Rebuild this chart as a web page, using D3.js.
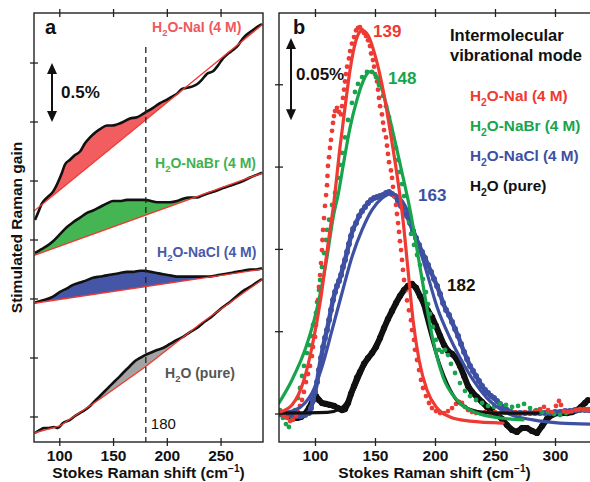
<!DOCTYPE html>
<html>
<head>
<meta charset="utf-8">
<script src="https://cdn.jsdelivr.net/npm/d3@7"></script>
<style>
  body { margin: 0; background: #fff; }
  text { font-family: "Liberation Sans", Arial, sans-serif; }
</style>
</head>
<body>
<script>
// ---- panel a : stimulated Raman gain traces (% , cm-1) ----
const naiTrace = [[76.9,1.67],[79.7,1.73],[83.4,1.81],[88.1,1.86],[93.7,1.91],[98.3,1.99],[102.0,2.07],[104.8,2.14],[109.5,2.18],[114.1,2.22],[118.8,2.25],[123.4,2.32],[128.1,2.37],[132.7,2.41],[137.4,2.44],[143.9,2.47],[148.6,2.47],[153.2,2.48],[158.8,2.5],[165.3,2.53],[171.8,2.54],[179.3,2.58],[186.7,2.62],[193.2,2.66],[199.7,2.69],[205.3,2.72],[209.0,2.74],[213.7,2.78],[218.3,2.79],[223.0,2.8],[227.6,2.82],[232.3,2.86],[237.0,2.91],[242.5,2.93],[247.2,2.98],[251.8,3.04],[256.5,3.08],[261.1,3.11],[265.8,3.15],[270.4,3.21],[275.1,3.25],[279.7,3.28],[284.4,3.31],[288.1,3.33]];
const naiBase = [[76,1.746],[289,3.33]];

const nabrTrace = [[76.9,1.39],[82.5,1.42],[88.1,1.45],[93.7,1.49],[100.2,1.55],[106.7,1.61],[112.3,1.65],[118.8,1.69],[125.3,1.73],[130.9,1.75],[137.4,1.78],[143.9,1.81],[149.5,1.83],[156.0,1.83],[162.5,1.84],[168.1,1.84],[174.6,1.84],[179.3,1.84],[184.9,1.83],[190.4,1.82],[196.0,1.82],[202.5,1.82],[209.0,1.83],[214.6,1.85],[221.1,1.86],[227.6,1.86],[233.2,1.88],[239.7,1.9],[246.2,1.92],[251.8,1.94],[258.3,1.96],[264.8,1.98],[270.4,2.0],[276.9,2.03],[282.5,2.05],[288.1,2.07]];
const nabrBase = [[76,1.369],[289,2.07]];

const naclTrace = [[76.9,0.97],[84.4,0.99],[93.7,1.02],[100.2,1.06],[106.7,1.09],[112.3,1.12],[118.8,1.14],[125.3,1.16],[130.9,1.18],[137.4,1.19],[143.9,1.2],[149.5,1.21],[156.0,1.22],[162.5,1.23],[168.1,1.23],[174.6,1.24],[179.3,1.24],[184.9,1.23],[190.4,1.22],[196.0,1.21],[202.5,1.2],[209.0,1.19],[214.6,1.19],[221.1,1.19],[227.6,1.19],[233.2,1.19],[239.7,1.19],[246.2,1.2],[251.8,1.21],[258.3,1.22],[264.8,1.23],[270.4,1.24],[276.9,1.25],[282.5,1.25],[288.1,1.26]];
const naclBase = [[76,0.964],[289,1.254]];

const pureTrace = [[76.9,-0.136],[81.5,-0.11],[85.3,-0.093],[89.9,-0.093],[94.6,-0.085],[98.3,-0.093],[102.9,-0.051],[109.5,-0.025],[114.1,0.008],[118.8,0.034],[123.4,0.059],[128.1,0.093],[132.7,0.136],[137.4,0.178],[142.0,0.22],[146.7,0.263],[151.3,0.305],[156.0,0.347],[160.6,0.39],[165.3,0.432],[170.0,0.475],[174.6,0.5],[179.3,0.525],[183.9,0.542],[190.4,0.568],[196.0,0.585],[202.5,0.619],[209.0,0.653],[214.6,0.678],[221.1,0.72],[227.6,0.754],[233.2,0.797],[239.7,0.839],[246.2,0.89],[251.8,0.932],[258.3,0.975],[264.8,1.025],[270.4,1.068],[276.9,1.102],[282.5,1.136],[288.1,1.169]];
const pureBase = [[76,-0.136],[100,-0.076],[137.4,0.153],[179.3,0.424],[230.4,0.788],[289,1.169]];

const ticksXA = [100, 150, 200, 250];
const ticksYA = [0, 0.5, 1, 1.5, 2, 2.5, 3];

// ---- panel b : intermolecular mode spectra (gain in 0.01 %) ----
const naiDots = [[71.3,0.06],[73.8,-0.12],[76.3,-0.24],[78.8,-0.43],[81.3,-0.36],[83.8,-0.12],[85.4,0.12],[87.1,0.49],[88.8,0.85],[90.4,1.34],[92.1,1.94],[93.8,2.43],[95.4,2.92],[97.1,3.52],[97.9,4.07],[99.6,4.68],[100.4,5.41],[101.3,6.14],[102.1,6.93],[102.9,7.72],[103.8,8.44],[104.6,9.17],[105.4,9.96],[105.8,10.57],[106.3,11.18],[107.1,11.9],[107.9,12.64],[108.8,13.3],[109.6,13.9],[110.0,14.46],[110.4,15.07],[111.3,15.6],[112.1,16.16],[112.9,16.65],[113.8,17.2],[114.6,17.68],[115.4,18.1],[116.3,18.4],[117.9,18.6],[119.6,18.35],[121.3,18.2],[122.1,18.7],[122.9,19.2],[123.8,19.7],[124.6,20.2],[125.4,20.65],[126.3,21.1],[127.9,21.6],[128.8,22.05],[130.4,22.5],[132.1,22.9],[133.8,23.3],[135.4,23.45],[137.1,23.5],[138.8,23.3],[140.4,23.15],[142.1,22.96],[143.8,22.7],[145.4,22.35],[146.3,21.9],[147.9,21.5],[148.8,21.1],[149.6,20.65],[151.3,20.2],[152.1,19.7],[152.9,19.2],[153.8,18.7],[155.4,18.2],[156.3,17.7],[157.1,17.25],[158.8,16.8],[159.6,16.3],[160.4,15.8],[161.3,15.3],[162.9,14.8],[163.8,14.34],[164.6,13.8],[165.4,13.24],[167.1,12.7],[167.9,12.15],[168.8,11.6],[169.6,11.06],[170.4,10.5],[171.3,9.96],[172.1,9.36],[172.9,8.75],[173.8,8.14],[175.4,7.53],[176.3,6.9],[177.9,6.3],[179.6,5.7],[180.4,5.1],[182.1,4.5],[182.9,3.9],[184.6,3.28],[186.3,2.67],[187.9,2.07],[189.6,1.58],[192.1,1.09],[194.6,0.67],[197.1,0.36],[200.4,0.18],[203.8,0.06],[207.1,0.06],[210.4,0.18],[213.8,0.36],[217.1,0.61],[219.6,0.73],[222.1,0.67],[224.6,0.43],[227.1,0.24],[230.4,0.12],[233.8,0.06],[237.1,0.06],[241.3,0.12],[245.4,0.06],[249.6,0.12],[253.8,0.06],[257.9,0.12],[262.1,0.06],[266.3,0.12],[270.4,0.06],[274.6,0.12],[278.8,0.06],[282.9,0.18],[287.1,0.3],[290.4,0.43],[293.8,0.24],[297.1,0.12],[300.4,0.49],[302.9,0.79],[304.6,0.55],[307.1,0.18],[310.4,0.12],[313.8,0.18],[317.1,0.24],[320.4,0.3],[323.8,0.3],[327.1,0.24]];
const naiFit = [[70.4,0.12],[80.4,0.55],[90.4,2.07],[97.1,4.07],[104.6,7.11],[110.4,10.3],[115.4,12.9],[120.4,16.2],[124.6,18.6],[128.8,20.9],[133.8,22.7],[138.8,23.3],[143.8,23.0],[149.6,21.8],[156.3,19.7],[162.1,17.25],[168.0,14.5],[172.9,11.8],[177.1,8.75],[181.3,5.7],[186.3,3.28],[192.9,1.46],[201.3,0.36],[212.1,-0.18],[228.8,-0.43],[256.3,-0.55]];

const nabrDots = [[70.4,0.24],[72.9,-0.24],[75.4,-0.61],[77.9,-0.79],[80.4,-0.36],[82.9,0.24],[85.4,0.97],[87.1,1.58],[88.8,2.31],[90.4,2.92],[92.9,3.7],[94.6,4.19],[96.3,4.74],[97.9,5.41],[100.4,6.14],[101.3,6.8],[102.9,7.53],[103.8,8.14],[105.4,8.93],[107.1,9.78],[108.8,10.57],[109.6,11.18],[111.3,11.8],[113.8,12.7],[116.3,13.43],[118.8,14.34],[120.4,15.13],[122.1,15.86],[124.6,16.8],[127.1,17.86],[130.4,18.9],[132.9,19.56],[135.4,20.05],[138.8,20.47],[142.9,20.78],[147.1,20.78],[150.4,20.47],[152.9,19.99],[156.3,19.32],[158.8,18.7],[161.3,18.04],[162.9,17.44],[164.6,16.83],[167.1,16.16],[168.8,15.43],[170.4,14.7],[172.1,13.97],[173.8,13.24],[176.3,12.4],[177.9,11.66],[179.6,10.94],[182.1,10.27],[184.6,9.66],[187.1,9.05],[189.6,8.2],[192.1,7.41],[193.8,6.68],[195.4,6.08],[197.9,5.29],[200.4,4.5],[202.9,3.9],[205.4,3.77],[207.9,3.9],[210.4,3.58],[212.9,3.04],[216.3,2.49],[220.4,1.88],[224.6,1.4],[228.8,1.09],[233.8,0.85],[238.8,0.67],[243.8,0.49],[248.8,0.43],[253.8,0.61],[258.8,0.55],[263.8,0.43],[268.8,0.49],[273.8,0.61],[278.8,0.36],[283.8,0.24],[288.8,0.12],[293.8,0.12],[298.8,0],[303.8,-0.06],[308.8,0.06],[313.8,0.18],[318.8,0.24],[323.8,0.24],[327.1,0.3]];
const nabrFit = [[69.6,0.67],[80.4,2.07],[92.1,4.07],[100.4,6.14],[108.8,9.17],[115.4,12.2],[118.8,13.3],[123.8,15.4],[128.8,17.4],[134.6,19.1],[139.6,20.2],[145.4,20.8],[151.3,20.5],[156.3,19.5],[164.6,17.1],[172.9,14.4],[178.8,12.4],[184.6,10.0],[190.4,7.5],[197.9,4.5],[206.3,2.25],[217.9,0.85],[234.6,0.06],[253.8,-0.24],[272.9,-0.36]];

const naclDots = [[71.3,0],[74.6,0],[77.9,-0.06],[81.3,-0.12],[84.6,-0.12],[87.9,-0.12],[91.3,-0.06],[94.6,0.06],[96.3,0.36],[97.9,0.85],[99.6,1.34],[101.3,1.94],[102.9,2.67],[104.6,3.4],[106.3,4.07],[107.9,4.62],[109.6,5.1],[111.3,5.71],[112.9,6.32],[114.6,6.93],[116.3,7.41],[117.9,7.78],[119.6,8.08],[121.3,8.44],[122.9,8.93],[124.6,9.36],[126.3,9.84],[127.9,10.33],[129.6,10.81],[131.3,11.24],[133.8,11.6],[136.3,12.03],[138.8,12.33],[141.3,12.58],[143.8,12.82],[146.3,13.0],[148.8,13.12],[151.3,13.18],[153.8,13.24],[156.3,13.3],[158.8,13.43],[161.3,13.49],[163.8,13.37],[166.3,13.24],[168.8,12.94],[171.3,12.64],[173.8,12.33],[176.3,12.03],[178.8,11.6],[181.3,11.12],[183.8,10.69],[186.3,10.27],[188.8,9.84],[191.3,9.48],[193.8,9.05],[196.3,8.63],[198.8,8.2],[201.3,7.78],[203.8,7.29],[206.3,6.74],[208.8,6.32],[211.3,6.01],[213.8,5.59],[216.3,5.16],[218.8,4.74],[221.3,4.25],[223.8,3.77],[226.3,3.34],[228.8,2.92],[231.3,2.61],[233.8,2.31],[236.3,2.0],[238.8,1.7],[241.3,1.46],[243.8,1.28],[246.3,1.09],[248.8,0.97],[251.3,0.79],[253.8,0.61],[256.3,0.43],[259.6,0.24],[262.9,0.12],[266.3,0.06],[270.4,0.06],[274.6,0.06],[278.8,0.06],[282.9,0.06],[287.1,0.06],[291.3,0.06],[295.4,0.06],[299.6,0.12],[303.8,0.12],[307.9,0.18],[312.1,0.18],[316.3,0.24],[320.4,0.24],[324.6,0.24],[327.9,0.24]];
const naclFit = [[69.6,0.06],[82.9,0.24],[91.3,0.67],[97.1,1.28],[105.4,2.86],[113.8,5.1],[122.1,7.35],[130.4,9.54],[138.8,11.18],[147.1,12.4],[155.4,13.1],[162.9,13.37],[170.4,13.1],[176.3,12.4],[181.3,11.3],[187.1,9.96],[192.9,8.57],[201.3,6.5],[212.1,4.62],[222.9,3.1],[231.3,2.07],[242.9,0.97],[259.6,0.06],[281.3,-0.36],[303.8,-0.55],[328.8,-0.61]];

const pureDots = [[71.3,0.06],[74.6,0],[77.9,-0.12],[81.3,-0.24],[84.6,-0.24],[87.9,-0.18],[91.3,0],[94.6,0.36],[97.9,0.85],[100.4,1.09],[102.9,0.85],[105.4,0.67],[108.8,0.61],[112.1,0.55],[115.4,0.49],[118.8,0.36],[122.1,0.24],[124.6,0.3],[127.1,0.67],[129.6,1.22],[132.1,1.7],[134.6,2.19],[137.1,2.55],[140.4,3.04],[143.8,3.4],[147.1,3.7],[150.4,4.07],[153.8,4.62],[157.1,5.22],[160.4,5.77],[163.8,6.26],[167.1,6.74],[170.4,7.17],[173.8,7.53],[177.1,7.78],[180.4,7.9],[183.8,7.66],[187.1,7.17],[190.4,6.68],[193.8,6.26],[197.1,5.89],[200.4,5.35],[203.8,4.74],[207.1,4.19],[210.4,3.83],[213.8,3.65],[217.1,3.4],[220.4,2.92],[223.8,2.31],[227.1,1.7],[230.4,1.34],[234.6,1.03],[238.8,0.73],[242.9,0.43],[247.1,0.18],[251.3,-0.06],[255.4,-0.3],[259.6,-0.67],[263.8,-0.97],[267.9,-1.09],[272.1,-0.85],[276.3,-0.85],[280.4,-1.03],[284.6,-1.15],[288.8,-0.73],[292.9,-0.3],[297.1,-0.06],[301.3,0.06],[305.4,0.06],[309.6,0.06],[313.8,0.12],[317.9,0.24],[321.3,0.43],[324.6,0.67],[327.1,0.85]];
const pureFit = [[70.4,0.06],[110.0,0.1],[120.0,0.3],[127.0,0.8],[133.0,1.6],[140.0,2.8],[147.0,3.8],[153.0,4.6],[160.0,5.7],[167.0,6.7],[173.0,7.4],[179.0,7.8],[184.0,7.6],[188.0,7.0],[192.0,5.9],[198.0,4.3],[204.0,2.9],[210.0,1.8],[217.0,0.9],[225.0,0.4],[235.0,0.15],[250.0,0.06],[285.4,0.06]];

const ticksXB = [100, 150, 200, 250, 300];
const ticksYB = [0, 5, 10, 15, 20];
const peakLabels = ["139", "148", "163", "182"];
const seriesNames = ["-NaI (4 M)", "-NaBr (4 M)", "-NaCl (4 M)", " (pure)"];

const RED = "#ee3a33", GREEN = "#17a44d", BLUE = "#3e50a2", BLACK = "#111";

const svg = d3.select("body").append("svg").attr("width", 590).attr("height", 482);

const A = {l: 34, r: 263, t: 13, b: 442};
const B = {l: 279, r: 592, t: 13, b: 442};

const xA = d3.scaleLinear().domain([76, 289]).range([A.l, A.r]);
const yA = d3.scaleLinear().domain([-0.212, 3.424]).range([A.b, A.t]);
const xB = d3.scaleLinear().domain([69.6, 328.75]).range([279, 590]);
const yB = d3.scaleLinear().domain([-1.70, 24.36]).range([B.b, B.t]);

const defs = svg.append("defs");
defs.append("clipPath").attr("id", "clipA").append("rect")
    .attr("x", A.l).attr("y", A.t).attr("width", A.r - A.l).attr("height", A.b - A.t);
defs.append("clipPath").attr("id", "clipB").append("rect")
    .attr("x", B.l).attr("y", B.t).attr("width", B.r - B.l).attr("height", B.b - B.t);

// ---------- panel a ----------
const gA = svg.append("g").attr("clip-path", "url(#clipA)");

function drawTrace(trace, base, fill) {
    const bl = d3.scaleLinear().domain(base.map(d => d[0])).range(base.map(d => d[1]));
    const area = d3.area()
        .x(d => xA(d[0]))
        .y0(d => yA(bl(d[0])))
        .y1(d => yA(Math.max(d[1], bl(d[0]))))
        .curve(d3.curveMonotoneX);
    gA.append("path").attr("d", area(trace)).attr("fill", fill).attr("stroke", "none");
    gA.append("path")
        .attr("d", d3.line().x(d => xA(d[0])).y(d => yA(d[1])).curve(d3.curveMonotoneX)(trace))
        .attr("fill", "none").attr("stroke", BLACK).attr("stroke-width", 2.6)
        .attr("stroke-linejoin", "round");
    gA.append("path")
        .attr("d", d3.line().x(d => xA(d[0])).y(d => yA(d[1]))(base))
        .attr("fill", "none").attr("stroke", RED).attr("stroke-width", 1.3);
}
drawTrace(naiTrace, naiBase, "#f25d5f");
drawTrace(nabrTrace, nabrBase, "#45b553");
drawTrace(naclTrace, naclBase, "#4656a7");
drawTrace(pureTrace, pureBase, "#a3a3a3");

// dashed marker at 180 cm-1
svg.append("line")
    .attr("x1", xA(180)).attr("x2", xA(180)).attr("y1", 47).attr("y2", A.b)
    .attr("stroke", "#222").attr("stroke-width", 1.3).attr("stroke-dasharray", "6,4");
svg.append("text").attr("x", xA(180) + 5).attr("y", 429)
    .attr("font-size", 15).attr("fill", "#111").text("180");

// ---------- panel b ----------
const gB = svg.append("g").attr("clip-path", "url(#clipB)");
const bandLine = d3.line().x(d => xB(d[0])).y(d => yB(d[1]));
const fitLine = d3.line().x(d => xB(d[0])).y(d => yB(d[1])).curve(d3.curveMonotoneX);

function drawDots(pts, color, r, band) {
    if (band) {
        gB.append("path").attr("d", bandLine(pts)).attr("fill", "none")
            .attr("stroke", color).attr("stroke-width", band)
            .attr("stroke-linejoin", "round");
    }
    gB.append("g").selectAll("circle").data(pts).join("circle")
        .attr("cx", d => xB(d[0])).attr("cy", d => yB(d[1])).attr("r", r)
        .attr("fill", color);
}
drawDots(pureDots, BLACK, 3.1, 6);
drawDots(naclDots, BLUE, 3.0, 4.5);
drawDots(nabrDots, GREEN, 2.4, 0);
drawDots(naiDots, RED, 2.4, 0);

function drawFit(pts, color) {
    gB.append("path").attr("d", fitLine(pts))
        .attr("fill", "none").attr("stroke", color).attr("stroke-width", 3.2)
        .attr("stroke-linecap", "round");
}
drawFit(naclFit, BLUE);
drawFit(pureFit, BLACK);
drawFit(nabrFit, GREEN);
drawFit(naiFit, RED);

// ---------- frames and ticks ----------
function frame(P, xs, xTicks, ys, yTicks) {
    svg.append("rect").attr("x", P.l).attr("y", P.t)
        .attr("width", P.r - P.l).attr("height", P.b - P.t)
        .attr("fill", "none").attr("stroke", "#222").attr("stroke-width", 1.4);
    const g = svg.append("g").attr("stroke", "#222").attr("stroke-width", 1.3);
    xTicks.forEach(v => {
        [P.t, P.b].forEach(y0 => g.append("line")
            .attr("x1", xs(v)).attr("x2", xs(v)).attr("y1", y0 - 4).attr("y2", y0 + 4));
        svg.append("text").attr("x", xs(v)).attr("y", 461)
            .attr("text-anchor", "middle").attr("font-size", 15.5).attr("font-weight", "bold")
            .attr("fill", "#111").text(v);
    });
    yTicks.forEach(v => g.append("line")
        .attr("x1", P.l - 4).attr("x2", P.l + 4).attr("y1", ys(v)).attr("y2", ys(v)));
    const title = svg.append("text").attr("x", (P.l + Math.min(P.r, 590)) / 2).attr("y", 478)
        .attr("text-anchor", "middle").attr("font-size", 15.5).attr("font-weight", "bold")
        .attr("fill", "#111");
    title.append("tspan").text("Stokes Raman shift (cm");
    title.append("tspan").attr("font-size", 10).attr("dy", -6).text("\u22121");
    title.append("tspan").attr("dy", 6).text(")");
}
frame(A, xA, ticksXA, yA, ticksYA);
frame(B, xB, ticksXB, yB, ticksYB);

svg.append("text")
    .attr("transform", `translate(22,${(A.t + A.b) / 2}) rotate(-90)`)
    .attr("text-anchor", "middle").attr("font-size", 15.5).attr("font-weight", "bold")
    .attr("fill", "#111").text("Stimulated Raman gain");

// ---------- annotations ----------
function arrow(x, y1, y2) {
    const g = svg.append("g").attr("fill", "#111");
    g.append("line").attr("x1", x).attr("x2", x).attr("y1", y1 + 8).attr("y2", y2 - 8)
        .attr("stroke", "#111").attr("stroke-width", 2);
    g.append("path").attr("d", `M${x},${y1} L${x - 5},${y1 + 11} L${x + 5},${y1 + 11} Z`);
    g.append("path").attr("d", `M${x},${y2} L${x - 5},${y2 - 11} L${x + 5},${y2 - 11} Z`);
}
arrow(52, yA(3.0), yA(2.5));
arrow(291, yB(22.84), yB(17.84));

function boldText(x, y, str, size, color) {
    return svg.append("text").attr("x", x).attr("y", y).attr("font-size", size)
        .attr("font-weight", "bold").attr("fill", color).text(str);
}
boldText(45, 34, "a", 20, "#111");
boldText(61, 98, "0.5%", 17, "#111");
boldText(293, 34, "b", 20, "#111");
boldText(296, 80, "0.05%", 17, "#111");

function chemLabel(x, y, rest, color, size) {
    const t = svg.append("text").attr("x", x).attr("y", y).attr("fill", color)
        .attr("font-size", size).attr("font-weight", "bold");
    t.append("tspan").text("H");
    t.append("tspan").attr("font-size", size * 0.68).attr("dy", size * 0.3).text("2");
    t.append("tspan").attr("dy", -size * 0.3).text("O" + rest);
}
chemLabel(152, 32, seriesNames[0], "#f0585b", 14);
chemLabel(155, 168, seriesNames[1], "#3fb24f", 14);
chemLabel(157, 257, seriesNames[2], "#4a59a8", 14);
chemLabel(165, 378, seriesNames[3], "#555", 14);

// panel b legend
boldText(450, 41, "Intermolecular", 16.5, "#111");
boldText(450, 61, "vibrational mode", 16.5, "#111");
const legendColors = [RED, GREEN, BLUE, "#111"];
seriesNames.forEach((s, i) => chemLabel(470, 101 + i * 30, s, legendColors[i], 15.3));

// peak labels
boldText(373, 37, peakLabels[0], 17, RED);
boldText(388, 84, peakLabels[1], 17, GREEN);
boldText(418, 201, peakLabels[2], 17, BLUE);
boldText(447, 291, peakLabels[3], 17, "#111");
</script>
</body>
</html>
